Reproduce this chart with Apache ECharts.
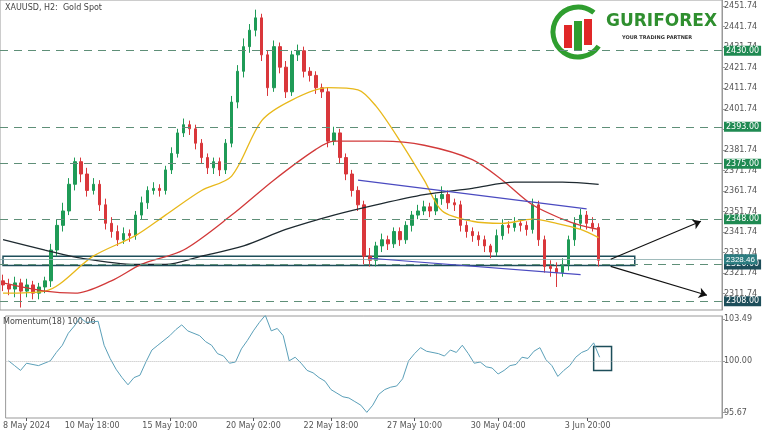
<!DOCTYPE html>
<html><head><meta charset="utf-8">
<script src="https://cdn.jsdelivr.net/npm/echarts@6/dist/echarts.min.js"></script>
<style>html,body{margin:0;background:#fff}#c{width:768px;height:432px}</style>
</head><body><div id="c"></div>
<script>
// candles, H2 gold spot (compressed: one candle ~ two bars)
const opens = [2318,2316,2314,2317,2313,2316,2312,2315,2318,2333,2345,2352,2365,2376,2370,2362,2365,2355,2346,2342,2338,2341,2340,2350,2356,2362,2363,2362,2372,2380,2390,2394,2392,2385,2378,2373,2376,2372,2385,2405,2420,2432,2440,2446,2428,2412,2432,2422,2410,2428,2430,2420,2418,2412,2410,2386,2390,2378,2370,2362,2355,2330,2328,2335,2338,2336,2342,2338,2345,2350,2352,2354,2352,2358,2360,2356,2355,2345,2342,2340,2338,2335,2332,2340,2345,2344,2346,2345,2343,2355,2338,2325,2324,2322,2326,2338,2346,2350,2346,2344];
const closes = [2316,2314,2317,2313,2316,2312,2315,2318,2333,2345,2352,2365,2376,2370,2362,2365,2355,2346,2342,2338,2341,2340,2350,2356,2362,2363,2362,2372,2380,2390,2394,2392,2385,2378,2373,2376,2372,2385,2405,2420,2432,2440,2446,2428,2412,2432,2422,2410,2428,2430,2420,2418,2412,2410,2386,2390,2378,2370,2362,2355,2330,2328,2335,2338,2336,2342,2338,2345,2350,2352,2354,2352,2358,2360,2356,2355,2345,2342,2340,2338,2335,2332,2340,2345,2344,2346,2345,2343,2355,2338,2325,2324,2322,2326,2338,2346,2350,2346,2344,2328];
const highs = [2321,2319,2320,2319,2319,2318,2317,2320,2336,2348,2356,2368,2378,2378,2373,2368,2367,2358,2349,2345,2344,2343,2352,2359,2364,2366,2365,2374,2383,2392,2397,2396,2394,2387,2380,2378,2378,2387,2408,2423,2436,2443,2450,2448,2430,2435,2434,2425,2430,2433,2432,2422,2420,2414,2412,2393,2392,2380,2372,2364,2357,2334,2337,2341,2340,2344,2344,2347,2352,2355,2357,2356,2360,2364,2362,2358,2357,2347,2344,2342,2340,2336,2343,2348,2347,2349,2348,2347,2358,2357,2340,2328,2327,2329,2340,2349,2353,2352,2349,2346];
const lows = [2313,2311,2310,2305,2310,2309,2309,2312,2315,2330,2342,2350,2362,2366,2359,2360,2352,2343,2339,2335,2336,2337,2338,2348,2353,2360,2359,2360,2370,2378,2388,2389,2382,2375,2370,2370,2369,2370,2383,2402,2417,2429,2437,2425,2408,2410,2419,2407,2408,2425,2417,2415,2409,2407,2383,2384,2375,2367,2359,2352,2326,2325,2325,2332,2333,2334,2335,2336,2342,2348,2350,2349,2350,2355,2353,2352,2342,2339,2337,2335,2332,2329,2330,2338,2341,2342,2342,2340,2341,2335,2322,2320,2315,2320,2323,2335,2343,2343,2342,2325];

// moving averages [candle index, value]
const maFast = [[0,2312],[7,2313],[15,2330],[22,2340],[27,2350],[33,2362],[38,2369],[43,2396],[48,2406],[54,2412],[59,2411],[62,2403],[66,2386],[70,2367],[73,2352],[78,2347],[83,2346],[88,2348],[92,2346],[96,2343],[99,2339]];
const maMid = [[0,2317],[7,2313],[12,2312],[18,2318],[23,2326],[30,2333],[38,2350],[45,2367],[52,2382],[55,2386],[63,2386],[70,2384],[78,2377],[83,2367],[88,2355],[93,2348],[96,2345],[99,2343]];
const maSlow = [[0,2338],[7,2333],[13,2329],[22,2326],[27,2326],[33,2330],[40,2335],[47,2343],[55,2350],[62,2355],[70,2360],[78,2363],[85,2366],[93,2366],[99,2365]];

// Momentum(18)
const momentum = [[0,100],[1,99.6],[2,99.2],[3,99.8],[5,99.6],[7,100],[8,100.7],[9,101.3],[10,102.3],[11,102.9],[12,103.6],[13,103.2],[15,103.3],[16,101.3],[17,100.2],[18,99.3],[19,98.6],[20,98],[21,98.6],[22,98.8],[23,99.9],[24,100.9],[25,101.3],[27,102.1],[28,102.6],[29,103],[30,102.5],[32,102.1],[33,101.6],[34,101.3],[35,100.6],[36,100.4],[37,99.8],[38,99.9],[39,101],[40,101.7],[41,102.5],[42,103.2],[43,103.8],[44,102.5],[45,102.7],[46,102.1],[47,100],[48,100.3],[49,99.8],[50,99.2],[51,99],[52,98.6],[53,98.3],[54,97.6],[55,97.3],[56,97],[57,96.9],[58,96.6],[59,96.3],[60,95.7],[61,96.3],[62,97.2],[63,97.6],[64,97.8],[65,97.9],[66,98.5],[67,100],[68,100.6],[69,101.1],[70,100.8],[72,100.6],[73,100.4],[74,100.9],[75,100.7],[76,101.3],[77,100.6],[78,99.8],[79,99.9],[80,99.5],[81,99.4],[82,98.9],[83,99.2],[84,99.6],[85,99.7],[86,100.3],[87,100.2],[88,100.8],[89,101.1],[90,100.1],[91,99.6],[92,98.7],[93,99.2],[94,99.6],[95,100.3],[96,100.7],[97,100.9],[98,101.5],[99,100.3]];

const levels = [2430, 2393, 2375, 2348, 2326, 2308];
const priceTicks = [2311.74,2321.74,2331.74,2341.74,2351.74,2361.74,2371.74,2381.74,2391.74,2401.74,2411.74,2421.74,2431.74,2441.74,2451.74];
const momTicks = [95.67, 100, 103.49];
const timeLabels = {3:'8 May 2024',14:'10 May 18:00',27:'15 May 10:00',41:'20 May 02:00',54:'22 May 18:00',68:'27 May 10:00',82:'30 May 04:00',97:'3 Jun 20:00'};
const lastPrice = 2328.46;

const N = 120;
const cats = [];
for (let i = 0; i < N; i++) cats.push(String(i));
const candles = opens.map((o, i) => [o, closes[i], lows[i], highs[i]]);

const green = '#1f9b57', red = '#d9373b';
const chart = echarts.init(document.getElementById('c'));
const axisFont = {fontFamily: 'DejaVu Sans', fontSize: 8, color: '#555'};

chart.setOption({
    animation: false,
    graphic: [
        {type: 'text', left: 5, top: 4, style: {text: 'XAUUSD, H2:  Gold Spot', font: '8px DejaVu Sans', fill: '#444'}},
        {type: 'text', left: 3, top: 318, style: {text: 'Momentum(18) 100.06', font: '8px DejaVu Sans', fill: '#444'}},
        {type: 'arc', shape: {cx: 578, cy: 32, r: 25, startAngle: 0.6, endAngle: 5.4}, style: {stroke: '#2f9e2f', lineWidth: 5, fill: null}},
        {type: 'rect', shape: {x: 564, y: 25, width: 8, height: 23}, style: {fill: '#e02828'}},
        {type: 'rect', shape: {x: 574, y: 21, width: 8, height: 29}, style: {fill: '#2f9e2f'}},
        {type: 'rect', shape: {x: 584, y: 19, width: 8, height: 26}, style: {fill: '#e02828'}},
        {type: 'text', left: 606, top: 13, style: {text: 'GURIFOREX', font: 'bold 17px DejaVu Sans', fill: '#2f8f2f'}},
        {type: 'text', left: 622, top: 35, style: {text: 'YOUR TRADING PARTNER', font: 'bold 5px DejaVu Sans', fill: '#333'}}
    ],
    grid: [
        {left: 0, right: 46, top: 0, height: 310, show: true, borderColor: '#999'},
        {left: 0, right: 46, top: 316, height: 102, show: true, borderColor: '#999'}
    ],
    xAxis: [
        {type: 'category', data: cats, gridIndex: 0, axisLabel: {show: false}, axisTick: {show: false}, axisLine: {show: false}},
        {type: 'category', data: cats, gridIndex: 1, axisLine: {show: false},
            axisTick: {show: true, alignWithLabel: true, length: 3, interval: i => timeLabels[i] !== undefined},
            axisLabel: Object.assign({interval: i => timeLabels[i] !== undefined, formatter: (v, i) => timeLabels[i] || '', margin: 4}, axisFont)}
    ],
    yAxis: [
        {type: 'value', gridIndex: 0, position: 'right', min: 2303.8, max: 2454.7, splitLine: {show: false},
            axisLine: {show: true, lineStyle: {color: '#999'}}, axisTick: {show: true, customValues: priceTicks, length: 3},
            axisLabel: Object.assign({customValues: priceTicks, formatter: v => v.toFixed(2), margin: 2}, axisFont)},
        {type: 'value', gridIndex: 1, position: 'right', min: 95.23, max: 103.74, splitLine: {show: false},
            axisLine: {show: true, lineStyle: {color: '#999'}}, axisTick: {show: true, customValues: momTicks, length: 3},
            axisLabel: Object.assign({customValues: momTicks, formatter: v => v.toFixed(2), margin: 2}, axisFont)}
    ],
    series: [
        {type: 'candlestick', xAxisIndex: 0, yAxisIndex: 0, data: candles, barMaxWidth: 3,
            itemStyle: {color: green, color0: red, borderColor: green, borderColor0: red, borderWidth: 1},
            markArea: {silent: true, itemStyle: {color: 'rgba(0,0,0,0)', borderColor: '#1d4e5a', borderWidth: 1.5},
                data: [[{coord: [0, 2325.5]}, {coord: [105, 2330]}]]},
            markLine: {silent: true, symbol: 'none', animation: false,
                data: levels.map(v => ({yAxis: v, lineStyle: {type: [8, 6], color: '#5f8f78', width: 1},
                    label: {position: 'end', formatter: v.toFixed(2), distance: 2, fontSize: 8, fontFamily: 'DejaVu Sans', color: '#fff',
                        backgroundColor: v === 2326 || v === 2308 ? '#1d4e5a' : '#1f8a52', padding: [1, 2]}}))
                    .concat([{yAxis: lastPrice, lineStyle: {type: 'solid', color: '#8aa', width: 0.8},
                        label: {position: 'end', formatter: lastPrice.toFixed(2), distance: 2, fontSize: 8, color: '#fff', backgroundColor: '#2c7c80', padding: [1, 2]}}])
                    .concat([
                        [{coord: [59, 2367], lineStyle: {type: 'solid', color: '#4a4ac0', width: 1.2}, label: {show: false}}, {coord: [97, 2353]}],
                        [{coord: [61, 2329], lineStyle: {type: 'solid', color: '#4a4ac0', width: 1.2}, label: {show: false}}, {coord: [96, 2321]}],
                        [{coord: [101, 2328.5], symbol: 'none', lineStyle: {type: 'solid', color: '#111', width: 1.2}, label: {show: false}}, {coord: [116, 2347], symbol: 'arrow', symbolSize: 8}],
                        [{coord: [101, 2325], symbol: 'none', lineStyle: {type: 'solid', color: '#111', width: 1.2}, label: {show: false}}, {coord: [117, 2311], symbol: 'arrow', symbolSize: 8}]
                    ])}
        },
        {type: 'line', xAxisIndex: 0, yAxisIndex: 0, data: maFast, smooth: 0.3, symbol: 'none', lineStyle: {color: '#e8b81a', width: 1.3}},
        {type: 'line', xAxisIndex: 0, yAxisIndex: 0, data: maMid, smooth: 0.3, symbol: 'none', lineStyle: {color: '#d23a3a', width: 1.3}},
        {type: 'line', xAxisIndex: 0, yAxisIndex: 0, data: maSlow, smooth: 0.3, symbol: 'none', lineStyle: {color: '#1e2a30', width: 1.3}},
        {type: 'line', xAxisIndex: 1, yAxisIndex: 1, data: momentum, symbol: 'none', lineStyle: {color: '#5a9fb8', width: 1},
            markLine: {silent: true, symbol: 'none', label: {show: false}, lineStyle: {type: 'dotted', color: '#bbb', width: 1}, data: [{yAxis: 100}]},
            markArea: {silent: true, itemStyle: {color: 'rgba(0,0,0,0)', borderColor: '#1d4e5a', borderWidth: 1.5},
                data: [[{coord: [98, 101.2]}, {coord: [101, 99.2]}]]}}
    ]
});
</script>
</body></html>
